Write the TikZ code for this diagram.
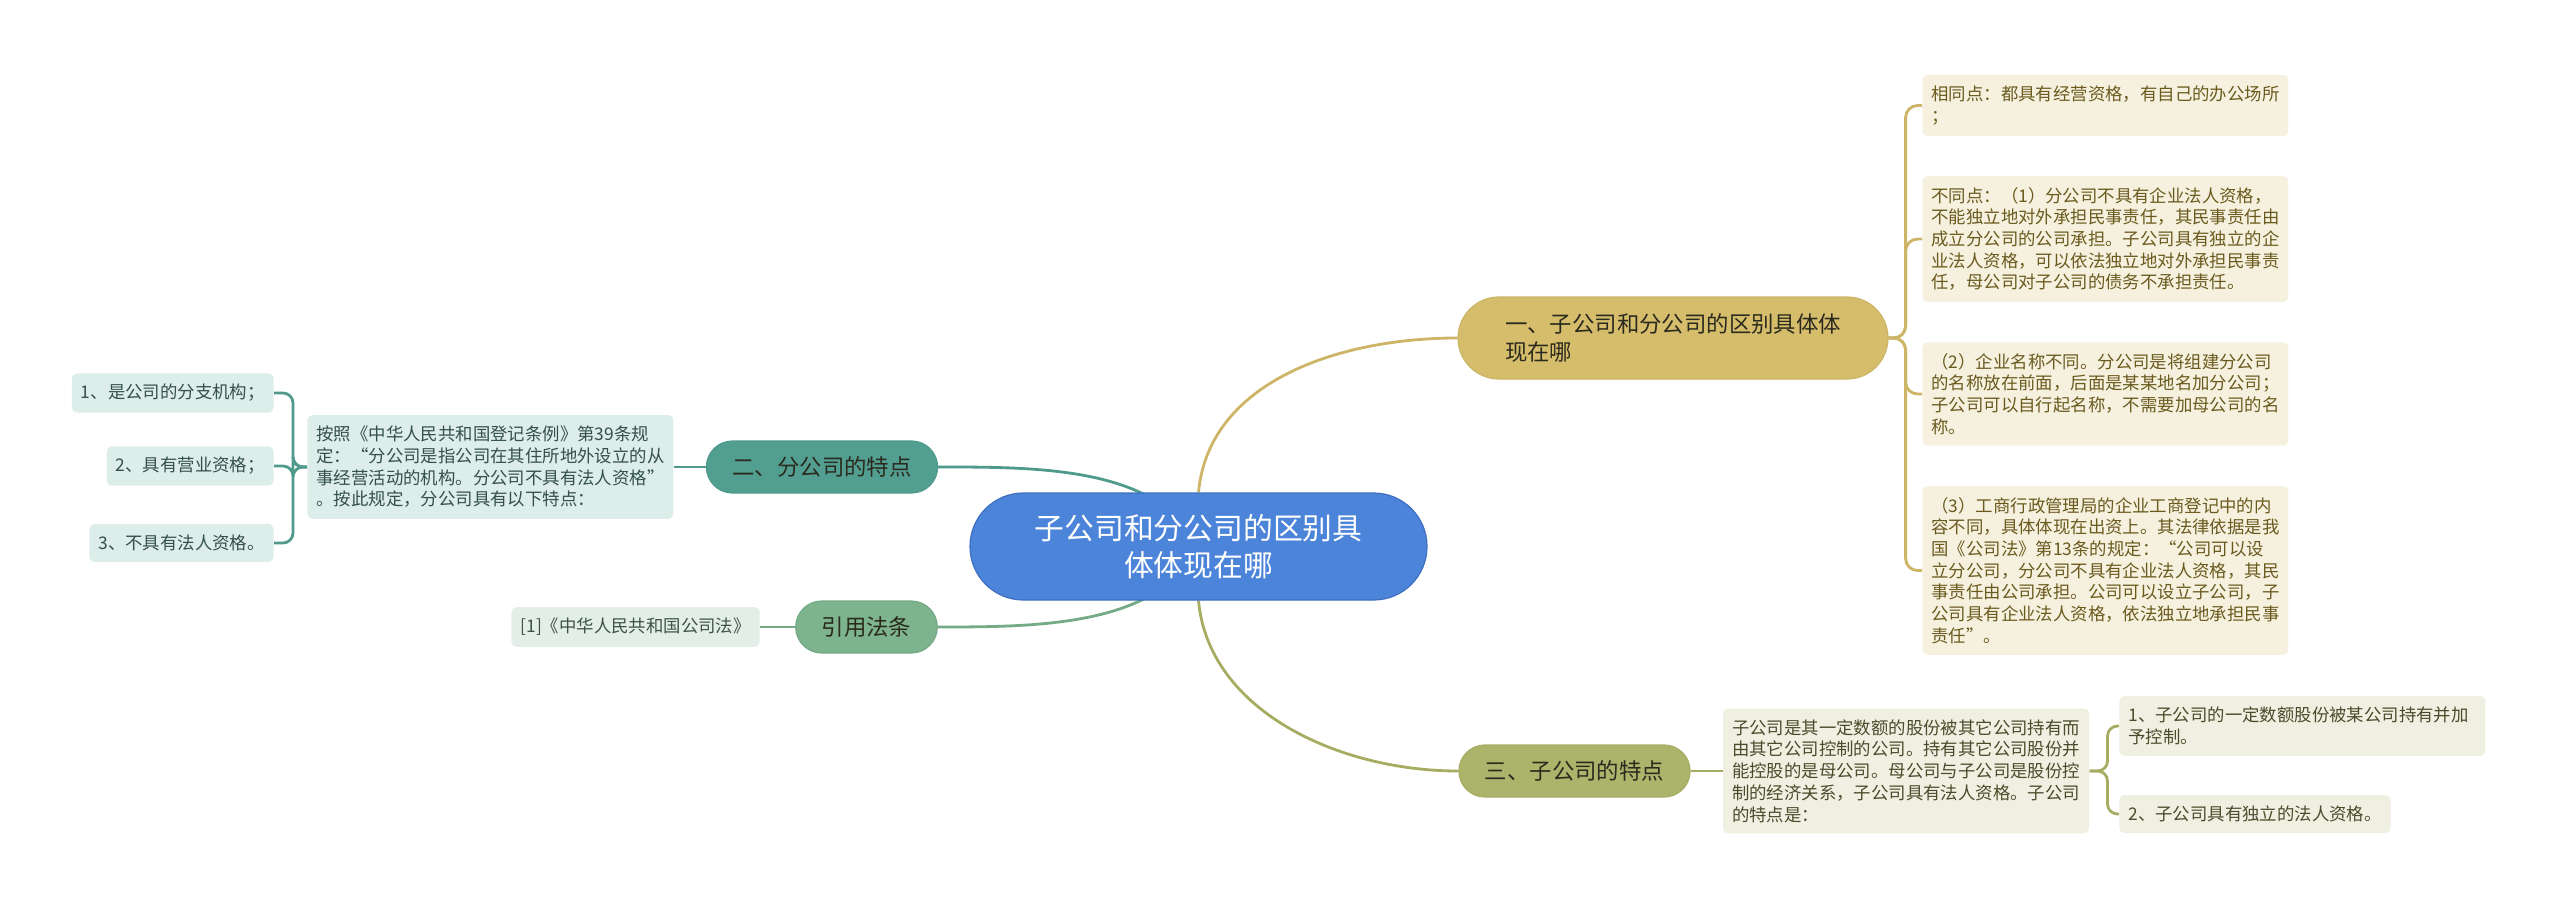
\documentclass[tikz,border=0pt]{standalone}
\usepackage{fontspec}
\setmainfont{Noto Sans CJK SC}
\usepackage{tikz}
\usetikzlibrary{positioning,backgrounds}
\definecolor{rootfill}{HTML}{4C84D9}
\definecolor{rootline}{HTML}{3F6FC0}
\definecolor{topictext}{HTML}{2B2A1E}
\definecolor{goldfill}{HTML}{D5BD6B}
\definecolor{goldline}{HTML}{CDB466}
\definecolor{goldnote}{HTML}{F6F1DF}
\definecolor{goldtext}{HTML}{6A5A1E}
\definecolor{olivefill}{HTML}{ACB46B}
\definecolor{oliveline}{HTML}{A6AD62}
\definecolor{olivenote}{HTML}{F0F0E2}
\definecolor{olivetext}{HTML}{4B4B2B}
\definecolor{tealfill}{HTML}{529F91}
\definecolor{tealline}{HTML}{4F9A8C}
\definecolor{tealnote}{HTML}{DDEDEA}
\definecolor{tealtext}{HTML}{33504B}
\definecolor{greenfill}{HTML}{7DB38D}
\definecolor{greenline}{HTML}{74AA86}
\definecolor{greennote}{HTML}{E3EEE8}
\definecolor{greentext}{HTML}{3D5247}
\tikzset{
  central/.style={fill=rootfill,draw=rootline,line width=0.6pt,text=white,align=center,font=\fontsize{14.9pt}{18.3pt}\selectfont,minimum width=228.5pt,minimum height=53.5pt,rounded corners=26.7pt,inner sep=0pt},
  topic/.style={text=topictext,line width=0.6pt,font=\fontsize{11.2pt}{14pt}\selectfont,minimum height=26pt,rounded corners=13pt,inner xsep=13pt,inner ysep=0pt},
  note/.style={font=\fontsize{8.7pt}{10.85pt}\selectfont,align=left,rounded corners=2.5pt,inner xsep=4.5pt,inner ysep=5.5pt},
  wide/.style={note,text width=174pt},
  conn/.style={line width=1.4pt},
}

\begin{document}
\begin{tikzpicture}[x=0.5pt,y=-0.5pt]
  \useasboundingbox (0,0) rectangle (2560,910);
  \node[central] (root) at (1198.5,546.5) {子公司和分公司的区别具\\体体现在哪};
  \node[topic,fill=goldfill,draw=goldline,minimum height=41pt,minimum width=215pt,rounded corners=20.5pt,inner xsep=21pt,align=left] (diff) at (1673,338) {一、子公司和分公司的区别具体体\\现在哪};
  \node[topic,fill=olivefill,draw=oliveline] (sub) at (1574.5,771) {三、子公司的特点};
  \node[topic,fill=tealfill,draw=tealline] (branch) at (822,467) {二、分公司的特点};
  \node[topic,fill=greenfill,draw=greenline] (law) at (866.5,627) {引用法条};

  \node[wide,fill=goldnote,text=goldtext,anchor=west] (same) at (1922,105.5) {相同点：都具有经营资格，有自己的办公场所\\；};
  \node[wide,fill=goldnote,text=goldtext,anchor=west] (unlike) at (1922,239) {不同点：（1）分公司不具有企业法人资格，\\不能独立地对外承担民事责任，其民事责任由\\成立分公司的公司承担。子公司具有独立的企\\业法人资格，可以依法独立地对外承担民事责\\任，母公司对子公司的债务不承担责任。};
  \node[wide,fill=goldnote,text=goldtext,anchor=west] (name) at (1922,394) {（2）企业名称不同。分公司是将组建分公司\\的名称放在前面，后面是某某地名加分公司；\\子公司可以自行起名称，不需要加母公司的名\\称。};
  \node[wide,fill=goldnote,text=goldtext,anchor=west] (reg) at (1922,570.5) {（3）工商行政管理局的企业工商登记中的内\\容不同，具体体现在出资上。其法律依据是我\\国《公司法》第13条的规定：“公司可以设\\立分公司，分公司不具有企业法人资格，其民\\事责任由公司承担。公司可以设立子公司，子\\公司具有企业法人资格，依法独立地承担民事\\责任”。};

  \node[wide,fill=olivenote,text=olivetext,right=16pt of sub] (subdef) {子公司是其一定数额的股份被其它公司持有而\\由其它公司控制的公司。持有其它公司股份并\\能控股的是母公司。母公司与子公司是股份控\\制的经济关系，子公司具有法人资格。子公司\\的特点是：};
  \node[wide,fill=olivenote,text=olivetext,anchor=west] (hold) at (2119,726) {1、子公司的一定数额股份被某公司持有并加\\予控制。};
  \node[note,fill=olivenote,text=olivetext,anchor=west] (indep) at (2119,814) {2、子公司具有独立的法人资格。};

  \node[wide,fill=tealnote,text=tealtext,left=16pt of branch] (rule) {按照《中华人民共和国登记条例》第39条规\\定：“分公司是指公司在其住所地外设立的从\\事经营活动的机构。分公司不具有法人资格”\\。按此规定，分公司具有以下特点：};
  \node[note,fill=tealnote,text=tealtext,anchor=east] (org) at (274,393) {1、是公司的分支机构；};
  \node[note,fill=tealnote,text=tealtext,anchor=east] (biz) at (274,466) {2、具有营业资格；};
  \node[note,fill=tealnote,text=tealtext,anchor=east] (nolegal) at (274,543) {3、不具有法人资格。};

  \node[note,fill=greennote,text=greentext,left=17.5pt of law] (act) {[1]《中华人民共和国公司法》};

  \begin{scope}[on background layer]
    \draw[conn,goldline] (root.north) .. controls +(10,-110) and +(-120,0) .. (diff.west);
    \draw[conn,oliveline] (root.south) .. controls +(10,110) and +(-120,0) .. (sub.west);
    \draw[conn,tealline] (root.center) .. controls +(-40,-80) and +(100,0) .. (branch.east);
    \draw[conn,greenline] (root.center) .. controls +(-40,80) and +(100,0) .. (law.east);
    \foreach \n in {same,unlike,name,reg} \draw[conn,goldline,rounded corners=6pt] (diff.east) -- ++(17,0) |- (\n.west);
    \draw[conn,oliveline] (sub) -- (subdef);
    \foreach \n in {hold,indep} \draw[conn,oliveline,rounded corners=5pt] (subdef.east) -- ++(18,0) |- (\n.west);
    \draw[conn,tealline] (branch) -- (rule);
    \foreach \n in {org,biz,nolegal} \draw[conn,tealline,rounded corners=5pt] (rule.west) -- ++(-14,0) |- (\n.east);
    \draw[conn,greenline] (law) -- (act);
  \end{scope}
\end{tikzpicture}
\end{document}
